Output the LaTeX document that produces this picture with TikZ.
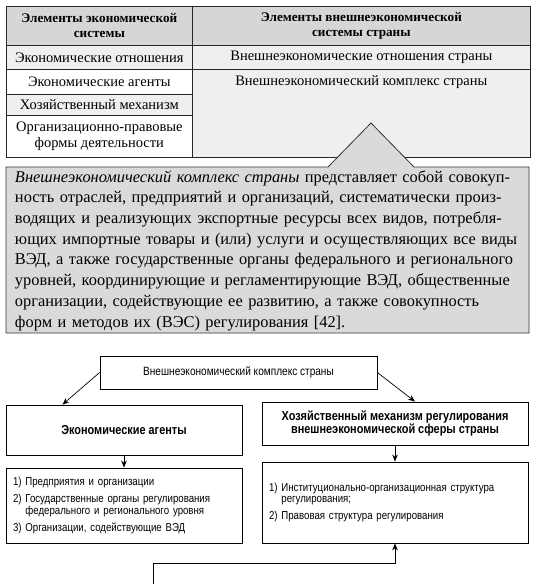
\documentclass[tikz,border=0pt]{standalone}
\usepackage{fontspec}
\setmainfont{Liberation Serif}
\newfontfamily\condsans[FakeStretch=0.84]{Liberation Sans}
\usepackage{xcolor}
\definecolor{hdr}{RGB}{214,214,214}
\definecolor{rowg}{RGB}{239,239,239}
\definecolor{note}{RGB}{218,218,218}
\usetikzlibrary{positioning,arrows.meta,calc}
\newcommand\spreadline[1]{\makebox[506pt][s]{#1}}

\begin{document}
\begin{tikzpicture}[x=1pt, y=-1pt,
  cell/.style={draw=black!85, line width=0.7pt, anchor=north west, inner sep=0pt, align=center,
    font=\fontsize{14.5}{16}\selectfont},
  hcell/.style={cell, fill=hdr, font=\fontsize{13.2}{15}\selectfont\bfseries},
  gcell/.style={cell, fill=rowg},
  wcell/.style={cell, fill=white},
  box/.style={draw, line width=0.8pt, align=center, inner sep=0pt, fill=white,
    font=\condsans\fontsize{12}{12.5}\selectfont},
  hbox/.style={box, font=\condsans\fontsize{13}{13.5}\selectfont\bfseries},
  lbox/.style={box, align=left, inner xsep=7pt, font=\condsans\fontsize{11.5}{11.5}\selectfont},
  arr/.style={-{Stealth[length=7pt, width=5.5pt]}, line width=0.7pt}]
\useasboundingbox (0,0) rectangle (534,584);
% table of elements
\node[hcell, minimum width=186pt, minimum height=39pt] (h1) at (6,6) {Элементы экономической\\системы};
\node[hcell, minimum width=338pt, minimum height=39pt] (h2) at (192,6) {Элементы внешнеэкономической\\системы страны};
\node[gcell, minimum width=186pt, minimum height=24pt] (l1) at (6,45) {Экономические отношения};
\node[gcell, minimum width=338pt, minimum height=24pt] (r1) at (192,45) {Внешнеэкономические отношения страны};
\node[wcell, minimum width=186pt, minimum height=25pt] (l2) at (6,69) {Экономические агенты};
\node[gcell, minimum width=186pt, minimum height=21pt] (l3) at (6,94) {Хозяйственный механизм};
\node[wcell, minimum width=186pt, minimum height=42pt] (l4) at (6,115) {Организационно-правовые\\формы деятельности};
\node[gcell, minimum width=338pt, minimum height=88pt] (r2) at (192,69) {};
\node[font=\fontsize{14.5}{16}\selectfont, inner sep=0pt] (r2t) at (l2 -| r2) {Внешнеэкономический комплекс страны};
% definition callout
\draw[draw=black!80, fill=note, line width=0.8pt] (6,167) -- (328,167) -- (371,123) -- (414,167)
  -- (529,167) -- (529,333) -- (6,333) -- cycle;
\node[text width=506pt, align=left, inner sep=0pt, font=\fontsize{16.4}{20.7}\selectfont] (def) at (268,250.5) {%
\spreadline{\textit{Внешнеэкономический комплекс страны} представляет собой совокуп-}\\
\spreadline{ность отраслей, предприятий и организаций, систематически произ-}\\
\spreadline{водящих и реализующих экспортные ресурсы всех видов, потребля-}\\
\spreadline{ющих импортные товары и (или) услуги и осуществляющих все виды}\\
\spreadline{ВЭД, а также государственные органы федерального и регионального}\\
\spreadline{уровней, координирующие и регламентирующие ВЭД, общественные}\\
\spreadline{организации, содействующие ее развитию, а также совокупность}\\
форм и методов их (ВЭС) регулирования [42].};
% scheme
\node[box, minimum width=277pt, minimum height=33pt] (vk) at (238.5,372.5) {Внешнеэкономический комплекс страны};
\node[hbox, minimum width=236pt, minimum height=50pt] (agents) at (124,430) {Экономические агенты};
\node[hbox, minimum width=266pt, minimum height=43pt] (mech) at (395,423.5)
  {Хозяйственный механизм регулирования\\внешнеэкономической сферы страны};
\node[lbox, text width=222pt, minimum height=75pt] (agentlist) at (124,505.5)
  {1) Предприятия и организации\\[5.5pt]
   2) Государственные органы регулирования\\
   \phantom{2) }федерального и регионального уровня\\[5.5pt]
   3) Организации, содействующие ВЭД};
\node[lbox, text width=252pt, minimum height=81pt] (mechlist) at (395,502.5)
  {1) Институционально-организационная структура\\
   \phantom{1) }регулирования;\\[5.5pt]
   2) Правовая структура регулирования};
\coordinate (feed) at (153,584);
\draw[arr] (vk.west) -- ($(agents.north west)!0.24!(agents.north east)$);
\draw[arr] (vk.east) -- ($(mech.north west)!0.575!(mech.north east)$);
\draw[arr] (agents) -- (agentlist);
\draw[arr] (mech) -- (mechlist);
\draw[arr] (feed) -- ++(0,-21) -| (mechlist.south);
\end{tikzpicture}
\end{document}
